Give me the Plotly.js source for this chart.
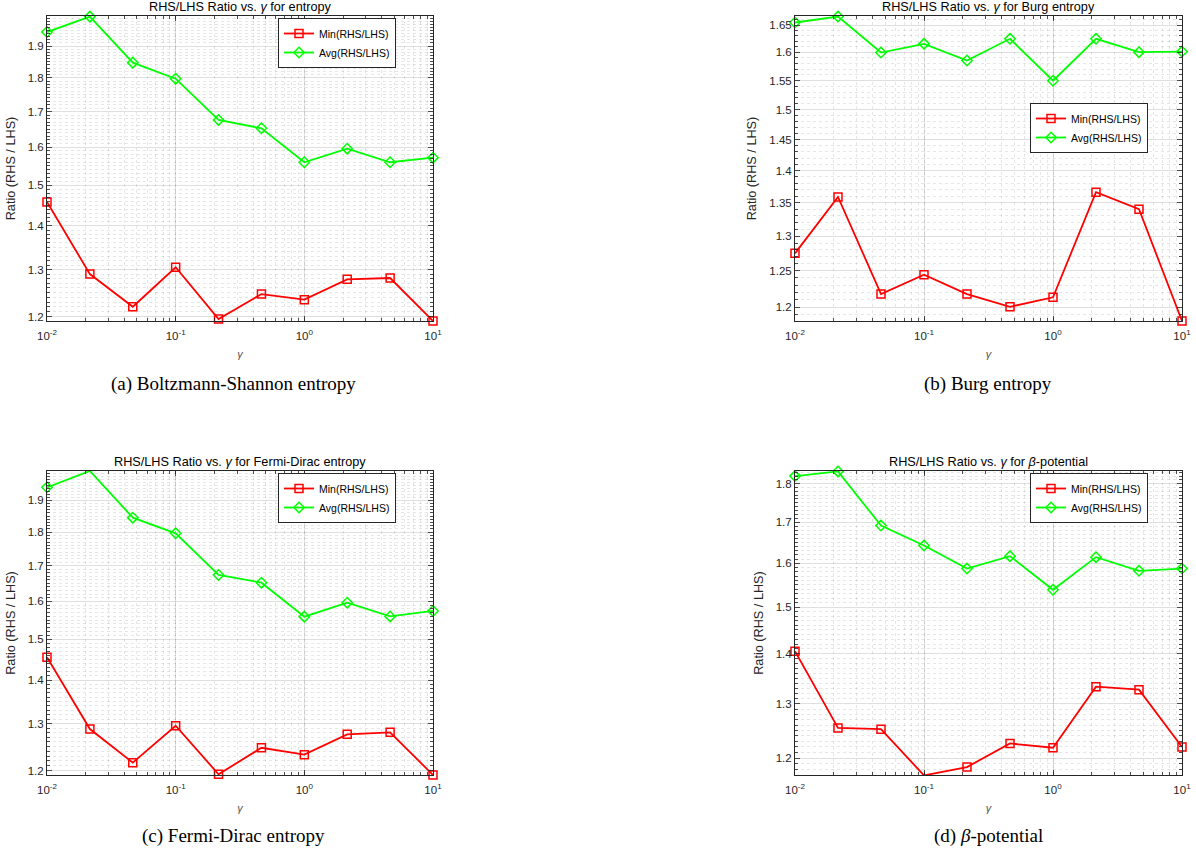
<!DOCTYPE html>
<html>
<head>
<meta charset="utf-8">
<script src="https://cdn.plot.ly/plotly-3.0.1.min.js"></script>
<style>html,body{margin:0;padding:0;background:#fff;}#chart{width:1196px;height:854px;}</style>
</head>
<body>
<div id="chart"></div>
<script>
// ---- data ----
const gamma = [0.01, 0.02154, 0.04642, 0.1, 0.2154, 0.4642, 1, 2.154, 4.642, 10];
const minA = [1.458, 1.290, 1.2205, 1.305, 1.1953, 1.247, 1.2352, 1.2786, 1.2814, 1.1913];
const avgA = [1.9457, 1.9973, 1.8472, 1.7975, 1.6759, 1.6524, 1.5598, 1.5962, 1.5598, 1.5720];
const minB = [1.2750, 1.3590, 1.2177, 1.2445, 1.2177, 1.2003, 1.2132, 1.3663, 1.3403, 1.1812];
const avgB = [1.6550, 1.6662, 1.5998, 1.6156, 1.5854, 1.6248, 1.5496, 1.6248, 1.6005, 1.6016];
const minC = [1.4551, 1.2880, 1.2164, 1.2953, 1.1927, 1.2477, 1.2331, 1.2765, 1.2808, 1.1913];
const avgC = [1.9424, 1.9973, 1.8449, 1.7964, 1.6736, 1.6518, 1.5592, 1.5966, 1.5597, 1.5743];
const minD = [1.4053, 1.2547, 1.2523, 1.1696, 1.1841, 1.2262, 1.2184, 1.3334, 1.3275, 1.2196];
const avgD = [1.8202, 1.8329, 1.6919, 1.6427, 1.5878, 1.6172, 1.5388, 1.6148, 1.5825, 1.5878];

const xTickVals = [0.01, 0.1, 1, 10];
const xTickText = ['10<sup>-2</sup>', '10<sup>-1</sup>', '10<sup>0</sup>', '10<sup>1</sup>'];

const panelTitles = [
  'RHS/LHS Ratio vs. <i>γ</i> for entropy',
  'RHS/LHS Ratio vs. <i>γ</i> for Burg entropy',
  'RHS/LHS Ratio vs. <i>γ</i> for Fermi-Dirac entropy',
  'RHS/LHS Ratio vs. <i>γ</i> for <i>β</i>-potential'
];
const captions = [
  '(a) Boltzmann-Shannon entropy',
  '(b) Burg entropy',
  '(c) Fermi-Dirac entropy',
  '(d) <i>β</i>-potential'
];
const seriesNames = ['Min(RHS/LHS)', 'Avg(RHS/LHS)'];

// ---- layout helpers ----
const W = 1196, H = 854;
const SANS = 'Liberation Sans, Arial, Helvetica, sans-serif';
const SERIF = 'Liberation Serif, Times New Roman, serif';
const AX = '#262626';

const px = v => v / W;
const py = v => 1 - v / H;

const panels = [
  {min: minA, avg: avgA, xd: [47, 433], yd: [16, 321], yr: [0.0760, 0.3009], dt: 'L0.1', leg: [396, 18], cap: [233, 384]},
  {min: minB, avg: avgB, xd: [795, 1182], yd: [16, 321], yr: [0.07231, 0.2220], dt: 'L0.05', leg: [1148, 103], cap: [988, 384]},
  {min: minC, avg: avgC, xd: [47, 433], yd: [471, 775], yr: [0.0760, 0.3004], dt: 'L0.1', leg: [396, 473], cap: [233, 836]},
  {min: minD, avg: avgD, xd: [795, 1182], yd: [471, 775], yr: [0.0683, 0.2634], dt: 'L0.1', leg: [1148, 473], cap: [988, 836]}
];

const traces = [];
const layout = {
  width: W, height: H,
  margin: {l: 0, r: 0, t: 0, b: 0},
  paper_bgcolor: '#fff', plot_bgcolor: '#fff',
  font: {family: SANS, color: AX, size: 11.5},
  showlegend: true,
  annotations: []
};

panels.forEach((p, i) => {
  const n = i === 0 ? '' : String(i + 1);
  const xa = 'x' + n, ya = 'y' + n, lg = 'legend' + n;
  traces.push({
    x: gamma, y: p.min, xaxis: xa, yaxis: ya, legend: lg,
    name: seriesNames[0], type: 'scatter', mode: 'lines+markers', cliponaxis: false,
    line: {color: '#ff0000', width: 1.8},
    marker: {symbol: 'square-open', size: 8, color: '#ff0000', line: {width: 1.5, color: '#ff0000'}}
  });
  traces.push({
    x: gamma, y: p.avg, xaxis: xa, yaxis: ya, legend: lg,
    name: seriesNames[1], type: 'scatter', mode: 'lines+markers', cliponaxis: false,
    line: {color: '#00ff00', width: 1.8},
    marker: {symbol: 'diamond-open', size: 8, color: '#00ff00', line: {width: 1.5, color: '#00ff00'}}
  });

  layout['xaxis' + n] = {
    type: 'log', range: [-2, 1], domain: [px(p.xd[0]), px(p.xd[1])], anchor: ya,
    tickmode: 'array', tickvals: xTickVals, ticktext: xTickText,
    ticks: 'inside', ticklen: 5, tickwidth: 0.8, tickcolor: AX,
    showline: true, linecolor: AX, linewidth: 1, mirror: 'ticks',
    showgrid: true, gridcolor: 'rgba(38,38,38,0.15)', gridwidth: 1,
    zeroline: false, tickfont: {size: 11.5, color: AX}, ticklabelstandoff: 4,
    minor: {dtick: 'D1', ticks: 'inside', ticklen: 3, tickcolor: AX, showgrid: true,
            gridcolor: 'rgba(38,38,38,0.14)', griddash: 'dot', gridwidth: 0.8},
    title: {text: '<i>γ</i>', font: {size: 11, color: '#555'}, standoff: 9}
  };
  layout['yaxis' + n] = {
    type: 'log', range: p.yr, domain: [py(p.yd[1]), py(p.yd[0])], anchor: xa,
    tickmode: 'linear', tick0: 1, dtick: p.dt,
    ticks: 'inside', ticklen: 5, tickwidth: 0.8, tickcolor: AX,
    showline: true, linecolor: AX, linewidth: 1, mirror: 'ticks',
    showgrid: true, gridcolor: 'rgba(38,38,38,0.15)', gridwidth: 1,
    zeroline: false, tickfont: {size: 11.5, color: AX},
    minor: {tick0: 1, dtick: 'L0.01', ticks: 'inside', ticklen: 3, tickcolor: AX, showgrid: true,
            gridcolor: 'rgba(38,38,38,0.14)', griddash: 'dot', gridwidth: 0.8},
    title: {text: 'Ratio (RHS / LHS)', font: {size: 12.7, color: AX}, standoff: 9}
  };
  layout[lg] = {
    x: px(p.leg[0]), y: py(p.leg[1]), xanchor: 'right', yanchor: 'top',
    bgcolor: '#fff', bordercolor: AX, borderwidth: 1,
    font: {size: 10.5, color: '#000', family: SANS},
    tracegroupgap: 0, itemwidth: 30
  };
  layout.annotations.push({
    text: panelTitles[i], xref: 'paper', yref: 'paper',
    x: px((p.xd[0] + p.xd[1]) / 2), y: py(p.yd[0] - 8.7), xanchor: 'center', yanchor: 'middle',
    showarrow: false, font: {size: 12.7, color: '#000', family: SANS}
  });
  layout.annotations.push({
    text: captions[i], xref: 'paper', yref: 'paper',
    x: px(p.cap[0]), y: py(p.cap[1]), xanchor: 'center', yanchor: 'middle',
    showarrow: false, font: {size: 19, color: '#000', family: SERIF}
  });
});

Plotly.newPlot('chart', traces, layout, {displayModeBar: false, staticPlot: true});
</script>
</body>
</html>
